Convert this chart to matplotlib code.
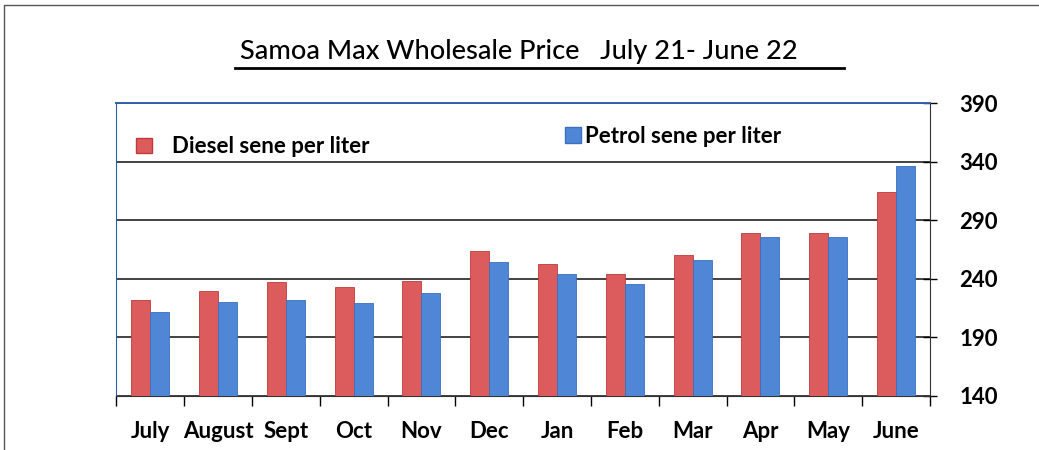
import numpy as np
import matplotlib
matplotlib.use("Agg")
import matplotlib.pyplot as plt
from matplotlib.patches import Patch

plt.rcParams["font.family"] = ["Lato", "DejaVu Sans"]

months = ["July", "August", "Sept", "Oct", "Nov", "Dec",
          "Jan", "Feb", "Mar", "Apr", "May", "June"]
diesel = [222, 230, 237, 233, 238, 264, 253, 244, 260, 279, 279, 314]
petrol = [212, 220, 222, 219, 228, 254, 244, 236, 256, 276, 276, 336]
yticks = [140, 190, 240, 290, 340, 390]

RED = "#DC5C5E"
BLUE = "#4F86D6"

fig = plt.figure(figsize=(10.39, 4.5), dpi=100)
ax = fig.add_axes([0.112, 0.12, 0.783, 0.651])

x = np.arange(len(months))
w = 0.28
ax.bar(x - w / 2, [d - 140 for d in diesel], w, bottom=140, color=RED,
       edgecolor="#C0393C", lw=0.6, zorder=3)
ax.bar(x + w / 2, [p - 140 for p in petrol], w, bottom=140, color=BLUE,
       edgecolor="#3B6FBF", lw=0.6, zorder=3)

ax.set_xlim(-0.5, len(months) - 0.5)
ax.set_ylim(140, 390)
ax.yaxis.tick_right()
ax.set_yticks(yticks)
ax.set_yticklabels([str(t) for t in yticks], fontsize=16, fontweight="bold")
ax.tick_params(axis="y", direction="inout", length=10, pad=16, width=1)
ax.set_xticks(x)
ax.set_xticklabels(months, fontsize=16, fontweight="bold")
ax.set_xticks(np.arange(-0.5, len(months)), minor=True)
ax.tick_params(axis="x", which="major", length=0, pad=18)
ax.tick_params(axis="x", which="minor", length=7, direction="out", width=1)
ax.grid(axis="y", color="#222222", lw=1.2, zorder=1)

ax.spines["left"].set_color("#2F5FB0")
ax.spines["top"].set_color("#2F5FB0")
ax.spines["right"].set_color("#333333")
ax.spines["bottom"].set_color("#333333")
ax.spines["top"].set_linewidth(1.4)

leg1 = ax.legend(handles=[Patch(facecolor=RED, edgecolor="#C0393C")],
                 labels=["Diesel sene per liter"], loc="upper left",
                 bbox_to_anchor=(0.0, 0.955), frameon=False,
                 prop={"weight": "bold", "size": 16}, handlelength=0.7,
                 handleheight=0.7, handletextpad=0.9)
ax.add_artist(leg1)
ax.legend(handles=[Patch(facecolor=BLUE, edgecolor="#3B6FBF")],
          labels=["Petrol sene per liter"], loc="upper left",
          bbox_to_anchor=(0.527, 0.99), frameon=False,
          prop={"weight": "bold", "size": 16}, handlelength=0.7,
          handleheight=0.7, handletextpad=0.2)

fig.text(0.499, 0.885, "Samoa Max Wholesale Price   July 21- June 22",
         ha="center", va="center", fontsize=19.5, fontweight="medium")
fig.add_artist(plt.Line2D([0.226, 0.812], [0.849, 0.849], color="black",
                          lw=2, transform=fig.transFigure))
# outer border (left and top)
fig.add_artist(plt.Line2D([0.004, 0.004, 1.0], [0.0, 0.99, 0.99],
                          color="#555555", lw=1, transform=fig.transFigure))

fig.savefig("out.png", dpi=100)
